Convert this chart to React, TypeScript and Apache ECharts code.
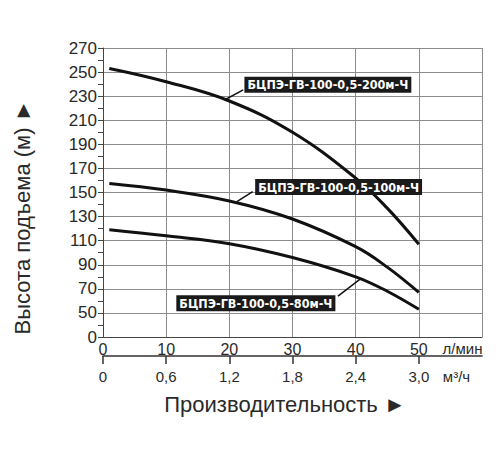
import React, { useEffect, useRef } from "react";
import * as echarts from "echarts";

// Flow (l/min) sample points
const flow = [1, 10, 20, 30, 40, 45, 50];
// Head (m) for each pump model
const head200 = [253, 242, 226, 200, 162, 137, 107];
const head100 = [157.5, 152, 143, 128, 105, 88, 67];
const head80 = [119, 114, 107.5, 96, 80, 68, 53];

const seriesNames = [
  "БЦПЭ-ГВ-100-0,5-200м-Ч",
  "БЦПЭ-ГВ-100-0,5-100м-Ч",
  "БЦПЭ-ГВ-100-0,5-80м-Ч",
];

// label anchor positions [flow, head] and leader lines [from, to]
const labelAnchors = [
  [35.6, 239.4],
  [37.3, 154.5],
  [24.2, 58.1],
];
const leaderLines = [
  [[19.3, 227], [22.2, 235.2]],
  [[21.2, 142.5], [23.7, 150.8]],
  [[40.7, 78.0], [37.2, 63.9]],
];

// y axis is broken: "0" is drawn where 30 would be
const yOffset = 30;
const flowTicks = [0, 10, 20, 30, 40, 50, 60];
const m3hTicks = [0, 0.6, 1.2, 1.8, 2.4, 3.0];

const FONT = "Liberation Sans, Arial, sans-serif";

export default function App() {
  const ref = useRef<HTMLDivElement>(null);
  useEffect(() => {
    if (!ref.current) return;
    const chart = echarts.init(ref.current, undefined, { renderer: "svg" });
    const heads = [head200, head100, head80];
    const series: any[] = heads.map((h, i) => ({
      type: "line",
      name: seriesNames[i],
      xAxisIndex: 0,
      yAxisIndex: 0,
      z: 2,
      smooth: 0.4,
      showSymbol: false,
      symbol: "none",
      lineStyle: { color: "#111", width: 3 },
      data: flow.map((f, k) => [f, h[k] - yOffset]),
      markLine: {
        silent: true,
        symbol: ["none", "none"],
        label: { show: false },
        lineStyle: { color: "#111", width: 1.5, type: "solid" },
        data: [
          [
            { coord: [leaderLines[i][0][0], leaderLines[i][0][1] - yOffset] },
            { coord: [leaderLines[i][1][0], leaderLines[i][1][1] - yOffset] },
          ],
        ],
      },
    }));
    series.push({
      type: "scatter",
      z: 10,
      silent: true,
      symbol: "rect",
      symbolSize: 0,
      itemStyle: { color: "#1e1e1e", opacity: 1 },
      label: {
        show: true,
        position: "inside",
        opacity: 1,
        formatter: (p: any) => seriesNames[p.dataIndex],
        color: "#fff",
        fontFamily: "DejaVu Sans Condensed, DejaVu Sans, sans-serif",
        fontWeight: "bold",
        fontSize: 12.5,
        backgroundColor: "#1a1a1a",
        padding: [2, 3, 1, 3],
      },
      data: labelAnchors.map((a) => [a[0], a[1] - yOffset]),
    });

    chart.setOption({
      animation: false,
      grid: { left: 95, right: 26, top: 40, bottom: 121 },
      xAxis: [
        {
          type: "value",
          min: flowTicks[0],
          max: flowTicks[flowTicks.length - 1],
          interval: 10,
          axisLine: { show: true, lineStyle: { color: "#444", width: 1 } },
          axisTick: { show: false },
          splitLine: { show: true, lineStyle: { color: "#8c8c8c", width: 1 } },
          axisLabel: {
            fontFamily: FONT,
            fontSize: 16,
            color: "#2a2a2a",
            margin: 4,
            formatter: (v: number) => (v === 60 ? "{u|л/мин}" : String(v)),
            rich: {
              u: { fontFamily: FONT, fontSize: 15, color: "#2a2a2a", padding: [0, 39, 0, 0] },
            },
          },
        },
        {
          type: "value",
          position: "bottom",
          offset: 19,
          min: 0,
          max: 3.6,
          interval: 0.6,
          axisLine: { show: true, onZero: false, lineStyle: { color: "#333", width: 1.5 } },
          axisTick: {
            show: true,
            length: 8,
            customValues: m3hTicks,
            lineStyle: { color: "#333", width: 1.5 },
          },
          splitLine: { show: false },
          axisLabel: {
            fontFamily: FONT,
            fontSize: 15,
            color: "#2a2a2a",
            margin: 13,
            formatter: (v: number) => {
              if (Math.abs(v - 3.6) < 1e-6) return "{u|м³/ч}";
              if (v === 0) return "0";
              return v.toFixed(1).replace(".", ",");
            },
            rich: {
              u: { fontFamily: FONT, fontSize: 15, color: "#2a2a2a", padding: [0, 51, 0, 0] },
            },
          },
        },
      ],
      yAxis: {
        type: "value",
        min: 0,
        max: 240,
        interval: 20,
        axisLine: { show: true, lineStyle: { color: "#444", width: 1 } },
        axisTick: { show: true, length: 5, lineStyle: { color: "#444" } },
        minorTick: { show: true, splitNumber: 2, length: 5, lineStyle: { color: "#444" } },
        splitLine: { show: true, lineStyle: { color: "#8c8c8c", width: 1 } },
        axisLabel: {
          fontFamily: FONT,
          fontSize: 17,
          color: "#2a2a2a",
          margin: 6,
          formatter: (v: number) => (v === 0 ? "0" : String(v + yOffset)),
        },
      },
      graphic: [
        {
          type: "text",
          x: 277,
          y: 396,
          style: {
            text: "Производительность ►",
            font: `22px ${FONT}`,
            fill: "#2a2a2a",
            align: "center",
            verticalAlign: "middle",
          },
        },
        {
          type: "text",
          x: 14,
          y: 209,
          rotation: Math.PI / 2,
          style: {
            text: "Высота подъема (м) ►",
            font: `22px ${FONT}`,
            fill: "#2a2a2a",
            align: "center",
            verticalAlign: "middle",
          },
        },
      ],
      series,
    });
    return () => chart.dispose();
  }, []);
  return <div ref={ref} style={{ width: 500, height: 450 }} />;
}
